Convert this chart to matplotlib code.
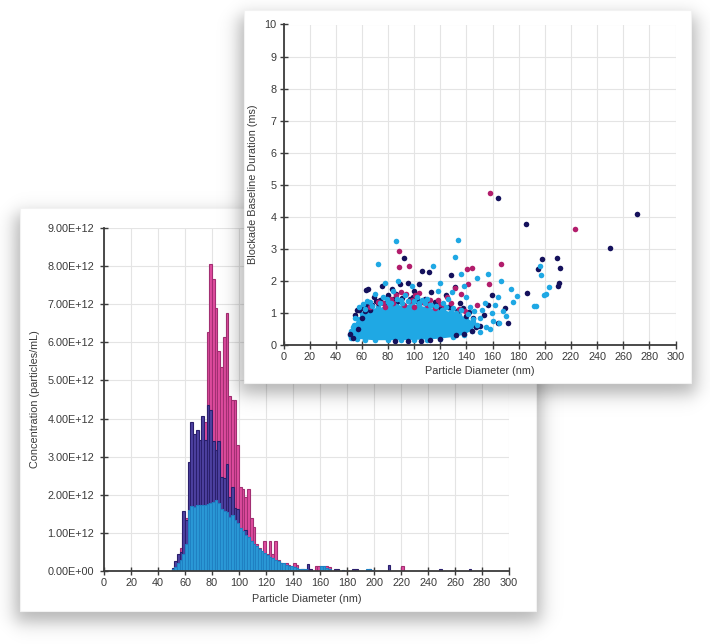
import numpy as np
import matplotlib
matplotlib.use("Agg")
import matplotlib.pyplot as plt
from matplotlib.patches import Rectangle, Polygon

plt.rcParams['font.family'] = ['Liberation Sans', 'DejaVu Sans']

# ---------------- histogram data (x1e12 particles/mL, 2 nm bins) ----------------
bin_left = list(range(50, 140, 2))

conc_magenta = [0.05, 0.15, 0.3, 0.6, 1.0, 1.4, 1.9, 2.4, 2.9, 3.2,
                3.4, 3.7, 3.9, 6.26, 8.05, 7.65, 6.9, 5.76, 5.35, 6.13,
                6.76, 4.6, 4.48, 4.48, 3.3, 2.2, 2.16, 1.95, 2.16, 1.4,
                1.16, 0.7, 0.6, 0.5, 0.78, 0.45, 0.78, 0.45, 0.78, 0.28,
                0.22, 0.18, 0.2, 0.15, 0.12]
conc_navy = [0.08, 0.25, 0.45, 0.5, 1.57, 1.35, 2.86, 3.91, 3.6, 3.69,
             3.45, 4.06, 3.43, 4.35, 4.22, 3.4, 3.17, 3.4, 2.47, 2.45,
             2.82, 1.95, 2.2, 1.64, 1.62, 1.1, 0.98, 1.07, 0.72, 0.8,
             0.62, 0.55, 0.5, 0.42, 0.35, 0.33, 0.28, 0.22, 0.2, 0.15,
             0.2, 0.12, 0.1, 0.12, 0.08]
conc_cyan = [0.05, 0.1, 0.2, 0.3, 0.45, 0.7, 1.6, 1.7, 1.68, 1.72,
             1.73, 1.74, 1.72, 1.75, 1.78, 1.8, 1.86, 1.78, 1.62, 1.58,
             1.55, 1.42, 1.48, 1.35, 1.25, 1.12, 1.05, 0.95, 0.88, 0.8,
             0.72, 0.65, 0.58, 0.52, 0.48, 0.42, 0.38, 0.33, 0.3, 0.25,
             0.22, 0.2, 0.16, 0.13, 0.12]

# sparse tail bins (left edge, height)
tail_navy_x = [140, 142, 146, 150, 152, 170, 172, 184, 186, 196, 210, 248, 270]
tail_navy_h = [0.1, 0.06, 0.05, 0.18, 0.05, 0.04, 0.05, 0.05, 0.05, 0.04, 0.15, 0.05, 0.05]
tail_magenta_x = [140, 142, 156, 158, 164, 166, 220]
tail_magenta_h = [0.2, 0.15, 0.12, 0.12, 0.12, 0.1, 0.14]
tail_cyan_x = [140, 142, 144, 146, 148, 160, 162, 164, 166, 176, 194, 196, 198]
tail_cyan_h = [0.1, 0.08, 0.06, 0.05, 0.04, 0.12, 0.12, 0.08, 0.05, 0.03, 0.04, 0.05, 0.03]

# ---------------- scatter data (diameter nm, blockade duration ms) ----------------
blob_x = [51, 52, 54, 57, 60, 64, 68, 72, 76, 80, 86, 92, 98, 104, 110, 116, 122,
          128, 134, 140, 145, 147, 144, 138, 130, 120, 110, 100, 90, 80, 70, 62, 56, 52]
blob_y = [0.3, 0.45, 0.62, 0.8, 0.98, 1.05, 1.1, 1.18, 1.12, 1.22, 1.28, 1.2, 1.3,
          1.22, 1.18, 1.12, 1.1, 1.02, 0.95, 0.85, 0.72, 0.6, 0.45, 0.32, 0.25, 0.2,
          0.17, 0.16, 0.15, 0.15, 0.15, 0.17, 0.2, 0.22]

navy_x = [51, 53, 56, 58, 60, 62, 66, 68, 63, 65, 69, 72, 75, 80, 83, 86, 89, 92,
          95, 97, 100, 104, 106, 108, 111, 113, 116, 120, 124, 128, 131, 135, 140,
          144, 147, 150, 153.6, 156.2, 159.3, 163.8, 164.1, 169.5, 172, 185.8, 186.3,
          194.5, 197.5, 209.5, 210.2, 210.8, 211.5, 249.6, 270.5, 85, 95, 105, 112,
          120, 132, 138, 55, 59, 64, 71, 77, 84, 91, 99, 103, 109, 118, 126, 133,
          142, 137, 145, 57, 74, 88, 102, 115, 127]
navy_y = [0.35, 0.22, 1.08, 1.1, 0.85, 1.05, 1.1, 1.25, 1.72, 1.75, 1.5, 1.3, 1.85,
          1.55, 1.75, 1.6, 1.9, 2.7, 1.95, 1.45, 1.7, 1.9, 2.32, 1.45, 2.27, 1.65,
          1.35, 1.2, 1.55, 2.17, 1.8, 1.3, 0.9, 0.44, 0.55, 0.6, 0.95, 1.25, 1.57,
          0.68, 4.6, 1.15, 0.68, 3.78, 1.61, 2.38, 2.67, 2.71, 1.85, 1.95, 2.41,
          3.04, 4.1, 0.12, 0.13, 0.14, 0.15, 0.18, 0.3, 0.35, 0.95, 1.15, 1.22,
          1.38, 1.3, 1.42, 1.48, 1.5, 1.35, 1.32, 1.28, 1.2, 1.05, 1.02, 1.15,
          0.85, 0.5, 1.4, 1.36, 1.42, 1.25, 1.18]

magenta_x = [72, 78, 82, 86, 88.4, 88.6, 90, 94, 96.3, 98, 101, 104, 108, 112, 116,
             120, 125, 131, 136, 140.2, 141.4, 144.5, 148, 157.2, 158, 166.2, 222.8,
             100, 92, 66, 76, 84, 96, 106, 110, 118, 123, 128, 134, 139]
magenta_y = [1.35, 1.2, 1.45, 1.55, 2.92, 2.43, 1.65, 1.6, 2.47, 1.4, 1.55, 1.62,
             1.3, 1.4, 1.15, 1.28, 1.5, 1.78, 1.6, 2.37, 1.9, 2.41, 1.25, 1.9, 4.74,
             2.53, 3.63, 1.2, 1.25, 1.2, 1.32, 1.3, 1.38, 1.35, 1.25, 1.4, 1.2,
             1.3, 1.12, 1.05]

cyan_x = [58, 61, 66, 70, 72.5, 76, 78, 80, 84, 86.1, 88, 90, 93, 98, 102, 106, 110,
          114.1, 118, 120, 122, 126, 129, 131.2, 133.7, 135.6, 138, 140, 143, 146,
          147.8, 150, 152, 154, 156.7, 158, 159.6, 160, 162, 164, 166.4, 165, 168,
          170, 173.8, 176, 178.4, 191.9, 193.6, 196, 197, 199.1, 201, 203.4, 142,
          145, 150, 155, 55, 62, 68, 74, 82, 87, 95, 100, 104, 108, 113, 117, 124,
          130, 136, 141, 148, 53, 64, 79, 91, 112, 121, 132]
cyan_y = [1.2, 1.28, 1.35, 1.6, 2.52, 1.5, 1.95, 1.35, 1.7, 3.25, 2.0, 1.4, 1.55,
          1.85, 1.5, 1.4, 1.45, 2.45, 1.7, 1.95, 1.3, 1.45, 1.65, 2.76, 3.28, 2.21,
          1.85, 1.5, 1.2, 1.05, 2.08, 0.85, 1.1, 1.3, 2.22, 0.5, 1.0, 0.75, 1.25,
          1.5, 2.01, 0.7, 1.05, 0.9, 1.76, 1.35, 1.53, 1.23, 1.23, 2.45, 2.18, 1.55,
          1.6, 1.8, 0.6, 0.8, 0.4, 0.55, 0.85, 1.12, 1.22, 1.3, 1.32, 1.42, 1.36,
          1.38, 1.32, 1.3, 1.26, 1.22, 1.18, 1.14, 1.08, 0.98, 0.62, 0.55, 1.38,
          1.45, 1.3, 1.24, 1.1, 1.0]

W, H = 710, 644
fig = plt.figure(figsize=(W / 100, H / 100), dpi=100)
fig.patch.set_facecolor('white')

TXT = '#3a3a3a'
AX = '#3c3c3c'


def card(x0, y0, x1, y1, z):
    # soft drop shadow rendered in pixel space, then the white card itself
    xs = np.arange(W) + 0.5
    ys = np.arange(H) + 0.5
    blur = 9.0

    def ramp(t):
        return 1.0 / (1.0 + np.exp(-t / blur * 1.7))
    sx = ramp(xs - x0 + 5) * ramp(x1 + 5 - xs)
    sy = ramp(ys - (y0 + 6)) * ramp((y1 + 11) - ys)
    rgba = np.zeros((H, W, 4))
    rgba[..., 3] = 0.30 * np.outer(sy, sx)
    fig.figimage(rgba, 0, 0, origin='upper', zorder=z)
    fig.add_artist(Rectangle((x0 / W, 1 - y1 / H), (x1 - x0) / W, (y1 - y0) / H,
                             transform=fig.transFigure, facecolor='white',
                             edgecolor='#f2f2f2', lw=0.8, zorder=z + 0.5))


def style(ax):
    ax.set_facecolor('white')
    for s in ['top', 'right']:
        ax.spines[s].set_visible(False)
    for s in ['left', 'bottom']:
        ax.spines[s].set_color(AX)
        ax.spines[s].set_linewidth(1.3)
    ax.grid(True, color='#e4e4e4', lw=0.8)
    ax.set_axisbelow(True)
    ax.tick_params(direction='inout', length=6, width=1, color=AX,
                   labelcolor=TXT, labelsize=7.8, pad=2)


# ---------------- bottom-left card: concentration histogram ----------------
card(20, 208, 536, 611, 1)
ax1 = fig.add_axes([104 / W, 1 - 571 / H, 405 / W, 343 / H], zorder=2)
style(ax1)
ax1.tick_params(axis='y', pad=4)

bar_kw = dict(width=2, align='edge', linewidth=0.8)
ax1.bar(bin_left + tail_magenta_x, conc_magenta + tail_magenta_h,
        color='#e04c9f', edgecolor='#a22f72', **bar_kw)
ax1.bar(bin_left + tail_navy_x, conc_navy + tail_navy_h,
        color='#4e42a2', edgecolor='#2a1f6c', **bar_kw)
ax1.bar(bin_left + tail_cyan_x, conc_cyan + tail_cyan_h,
        color='#2b9ad8', edgecolor='#1f80c2', **bar_kw)

ax1.set_xlim(0, 300)
ax1.set_ylim(0, 9)
ax1.set_xticks(range(0, 301, 20))
ax1.set_yticks(range(0, 10))
ax1.set_yticklabels(['%.2fE+12' % v if v else '0.00E+00' for v in range(0, 10)])
ax1.set_xlabel('Particle Diameter (nm)', fontsize=7.8, color=TXT, va='center')
ax1.set_ylabel('Concentration (particles/mL)', fontsize=7.8, color=TXT, va='center')
ax1.xaxis.set_label_coords(0.5, -0.082)
ax1.yaxis.set_label_coords(-0.17, 0.5)

# ---------------- top-right card: blockade duration scatter ----------------
card(244, 10, 691, 383, 3)
ax2 = fig.add_axes([283.5 / W, 1 - 345 / H, 392 / W, 320.5 / H], zorder=4)
style(ax2)

cyan = '#1fa8e4'
ax2.add_patch(Polygon(list(zip(blob_x, blob_y)), closed=True, facecolor=cyan,
                      edgecolor='none', zorder=2))
ax2.scatter(blob_x, blob_y, s=16, color=cyan, lw=0, zorder=2)
ax2.scatter(navy_x, navy_y, s=16, color='#15115c', lw=0, zorder=3)
ax2.scatter(magenta_x, magenta_y, s=16, color='#b21d6c', lw=0, zorder=3)
ax2.scatter(cyan_x, cyan_y, s=16, color=cyan, lw=0, zorder=3)

ax2.set_xlim(0, 300)
ax2.set_ylim(0, 10)
ax2.set_xticks(range(0, 301, 20))
ax2.set_yticks(range(0, 11))
ax2.set_xlabel('Particle Diameter (nm)', fontsize=7.8, color=TXT, va='center')
ax2.set_ylabel('Blockade Baseline Duration (ms)', fontsize=7.8, color=TXT, va='center')
ax2.xaxis.set_label_coords(0.5, -0.081)
ax2.yaxis.set_label_coords(-0.078, 0.5)

fig.savefig('out.png', dpi=100, facecolor='white')
